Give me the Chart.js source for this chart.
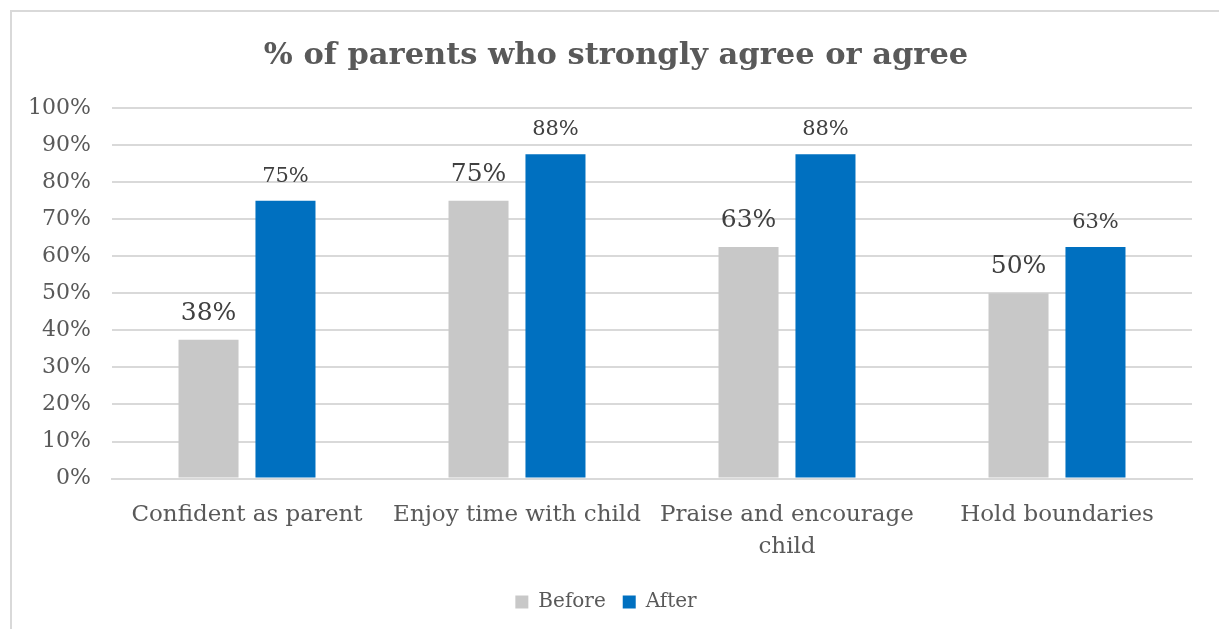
<!DOCTYPE html>
<html>
<head>
<meta charset="utf-8">
<script src="https://cdn.jsdelivr.net/npm/chart.js@4.4.1/dist/chart.umd.min.js"></script>
<style>
  html, body { margin: 0; padding: 0; background: #fff; }
  #frame {
    position: absolute; left: 10px; top: 10px;
    width: 1230px; height: 640px;
    border: 2px solid #d9d9d9;
  }
  #wrap { position: absolute; left: 0; top: 0; width: 1219px; height: 629px; }
</style>
</head>
<body>
<div id="frame"></div>
<div id="wrap"><canvas id="chart"></canvas></div>
<script>
  // Chart data
  const categories = [
    'Confident as parent',
    'Enjoy time with child',
    ['Praise and encourage', 'child'],
    'Hold boundaries'
  ];
  const beforeValues = [37.5, 75, 62.5, 50];
  const afterValues = [75, 87.5, 87.5, 62.5];
  const beforeLabels = ['38%', '75%', '63%', '50%'];
  const afterLabels = ['75%', '88%', '88%', '63%'];
  const titleText = '% of parents who strongly agree or agree';

  const fontFamily = "'DejaVu Serif', 'Liberation Serif', serif";
  const textColor = '#595959';

  // Title centred on the framed box (which is offset from the canvas)
  const boxTitle = {
    id: 'boxTitle',
    afterDraw(chart) {
      const ctx = chart.ctx;
      ctx.save();
      ctx.fillStyle = textColor;
      ctx.font = 'bold 30.5px ' + fontFamily;
      ctx.textAlign = 'center';
      ctx.textBaseline = 'middle';
      ctx.fillText(titleText, 616, 56);
      ctx.restore();
    }
  };

  // Draw value labels above each bar
  const barLabels = {
    id: 'barLabels',
    afterDatasetsDraw(chart) {
      const ctx = chart.ctx;
      const sets = [
        { labels: beforeLabels, size: 25, gap: 14 },
        { labels: afterLabels, size: 21, gap: 14 }
      ];
      ctx.save();
      ctx.fillStyle = '#404040';
      ctx.textAlign = 'center';
      ctx.textBaseline = 'bottom';
      sets.forEach((s, i) => {
        ctx.font = s.size + 'px ' + fontFamily;
        chart.getDatasetMeta(i).data.forEach((bar, j) => {
          ctx.fillText(s.labels[j], bar.x, bar.y - s.gap);
        });
      });
      ctx.restore();
    }
  };

  new Chart(document.getElementById('chart'), {
    type: 'bar',
    data: {
      labels: categories,
      datasets: [
        { label: 'Before', data: beforeValues, backgroundColor: '#c8c8c8' },
        { label: 'After', data: afterValues, backgroundColor: '#0070c0' }
      ]
    },
    options: {
      responsive: true,
      maintainAspectRatio: false,
      animation: false,
      datasets: {
        bar: { categoryPercentage: 0.57, barPercentage: 0.78 }
      },
      layout: { padding: { left: 20, right: 27, top: 108, bottom: 7 } },
      plugins: {
        title: { display: false },
        legend: {
          position: 'bottom',
          labels: {
            color: textColor,
            font: { family: fontFamily, size: 20 },
            boxWidth: 13,
            boxHeight: 13,
            padding: 17
          }
        },
        tooltip: { enabled: false }
      },
      scales: {
        x: {
          grid: { display: false },
          border: { color: '#d9d9d9', width: 2 },
          ticks: {
            color: textColor,
            font: { family: fontFamily, size: 23, lineHeight: 1.4 },
            maxRotation: 0,
            autoSkip: false,
            padding: 12
          }
        },
        y: {
          min: 0,
          max: 100,
          afterFit: function(scale) { scale.width = 92; },
          grid: { color: '#d9d9d9', lineWidth: 2, drawTicks: false },
          border: { display: false },
          ticks: {
            stepSize: 10,
            color: textColor,
            font: { family: fontFamily, size: 22 },
            padding: 21,
            callback: function(value) {
              return value + '%';
            }
          }
        }
      }
    },
    plugins: [barLabels, boxTitle]
  });
</script>
</body>
</html>
